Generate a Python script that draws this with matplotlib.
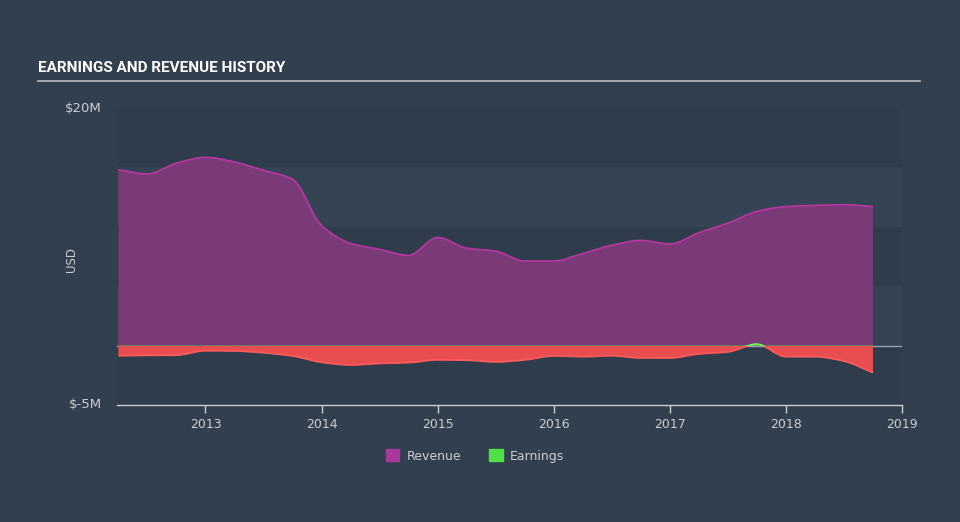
# -*- coding: utf-8 -*-
"""Earnings and revenue history – dark theme area chart."""
import numpy as np
import matplotlib
matplotlib.use('Agg')
import matplotlib.pyplot as plt
from matplotlib.path import Path
from matplotlib.patches import PathPatch, Rectangle, Patch

# quarterly points (decimal year), values in $M
years = [2012.25, 2012.5, 2012.75, 2013.0, 2013.25, 2013.5, 2013.75,
         2014.0, 2014.25, 2014.5, 2014.75, 2015.0, 2015.25, 2015.5, 2015.75,
         2016.0, 2016.25, 2016.5, 2016.75, 2017.0, 2017.25, 2017.5, 2017.75,
         2018.0, 2018.25, 2018.5, 2018.75]
revenue = [14.8, 14.45, 15.35, 15.85, 15.45, 14.75, 14.0,
           10.1, 8.6, 8.1, 7.6, 9.1, 8.2, 7.95, 7.12,
           7.12, 7.75, 8.45, 8.85, 8.55, 9.5, 10.3, 11.3,
           11.7, 11.8, 11.86, 11.7]
earnings = [-0.85, -0.82, -0.8, -0.43, -0.45, -0.6, -0.87,
            -1.4, -1.63, -1.5, -1.43, -1.2, -1.23, -1.37, -1.2,
            -0.87, -0.93, -0.85, -1.04, -1.04, -0.7, -0.53, 0.12,
            -0.93, -0.93, -1.3, -2.28]
xticks = [2013, 2014, 2015, 2016, 2017, 2018, 2019]

BG = '#323f4e'
TXT = '#c9ced4'
REV_FILL, REV_LINE = '#7a3a78', '#b2379f'
NEG_FILL, NEG_LINE = '#e84e4f', '#ff5b5b'
POS_FILL, POS_LINE = '#5fd94f', '#72f060'


def smooth_verts(x, y):
    """Monotone cubic (Fritsch-Carlson) as Bezier segments."""
    x = np.asarray(x, float); y = np.asarray(y, float)
    h = np.diff(x); d = np.diff(y) / h
    m = np.zeros(len(x)); m[0] = d[0]; m[-1] = d[-1]
    for i in range(1, len(x) - 1):
        if d[i - 1] * d[i] <= 0:
            m[i] = 0
        else:
            m[i] = 2 / (1 / d[i - 1] + 1 / d[i])
    verts = [(x[0], y[0])]; codes = [Path.MOVETO]
    for i in range(len(x) - 1):
        verts += [(x[i] + h[i] / 3, y[i] + m[i] * h[i] / 3),
                  (x[i + 1] - h[i] / 3, y[i + 1] - m[i + 1] * h[i] / 3),
                  (x[i + 1], y[i + 1])]
        codes += [Path.CURVE4] * 3
    return verts, codes


def area_patches(ax, x, y, fill, line, clip=None, z=3):
    verts, codes = smooth_verts(x, y)
    fv = verts + [(x[-1], 0), (x[0], 0), (x[0], 0)]
    fc = codes + [Path.LINETO, Path.LINETO, Path.CLOSEPOLY]
    pf = PathPatch(Path(fv, fc), facecolor=fill, edgecolor='none', zorder=z)
    pl = PathPatch(Path(verts, codes), facecolor='none', edgecolor=line, lw=1.3, zorder=z + 0.5)
    for p in (pf, pl):
        ax.add_patch(p)
        if clip is not None:
            p.set_clip_path(clip)


fig = plt.figure(figsize=(9.6, 5.22), dpi=100, facecolor=BG)
ax = fig.add_axes([117 / 960, 1 - 405 / 522, 785 / 960, 297 / 522])
ax.set_facecolor(BG)
x0, x1 = 2012.238, 2019.0
ax.set_xlim(x0, x1); ax.set_ylim(-5, 20)

# alternating horizontal bands
band_cols = ['#2e3c4b', '#354454', '#2e3c4b', '#354454', '#2e3c4b']
for i, lo in enumerate([15, 10, 5, 0, -5]):
    ax.axhspan(lo, lo + 5, color=band_cols[i], zorder=0, lw=0)

ax.axhline(0, color='#9aa3ad', lw=1, zorder=1)

area_patches(ax, years, revenue, REV_FILL, REV_LINE, z=2)
neg_clip = Rectangle((x0, -5), x1 - x0, 5, transform=ax.transData)
pos_clip = Rectangle((x0, 0), x1 - x0, 20, transform=ax.transData)
area_patches(ax, years, earnings, NEG_FILL, NEG_LINE, clip=neg_clip, z=4)
area_patches(ax, years, earnings, POS_FILL, POS_LINE, clip=pos_clip, z=4)

for s in ['top', 'right', 'left']:
    ax.spines[s].set_visible(False)
ax.spines['bottom'].set_color('#c9ced4')
ax.spines['bottom'].set_linewidth(1)
ax.set_yticks([])
ax.set_xticks(xticks)
ax.set_xticklabels([str(t) for t in xticks])
ax.tick_params(axis='x', colors='#c9ced4', length=6, width=1, labelsize=9,
               labelcolor=TXT, pad=3)

# y labels
fig.text(102 / 960, 1 - 108 / 522, '$20M', color=TXT, fontsize=9.5, ha='right', va='center')
fig.text(102 / 960, 1 - 405 / 522, '$-5M', color=TXT, fontsize=9.5, ha='right', va='center')
fig.text(72 / 960, 1 - 260 / 522, 'USD', color=TXT, fontsize=8.5, rotation=90, ha='center', va='center')

# title + rule
fig.text(38 / 960, 1 - 68 / 522, 'EARNINGS AND REVENUE HISTORY', color='white', fontsize=11,
         fontweight='bold', family=['Roboto', 'DejaVu Sans'], ha='left', va='center')
fig.add_artist(plt.Line2D([38 / 960, 920 / 960], [1 - 81 / 522] * 2, color='#b8bec5', lw=1.2))

handles = [Patch(color='#a8399b', label='Revenue'), Patch(color='#4fe04a', label='Earnings')]
leg = fig.legend(handles=handles, loc='center', bbox_to_anchor=(475 / 960, 1 - 456 / 522), ncol=2,
                 frameon=False, fontsize=9, handlelength=1.1, handleheight=1.1, columnspacing=2.2,
                 handletextpad=0.6)
for t in leg.get_texts():
    t.set_color(TXT)

fig.savefig('out.png', dpi=100, facecolor=BG)
